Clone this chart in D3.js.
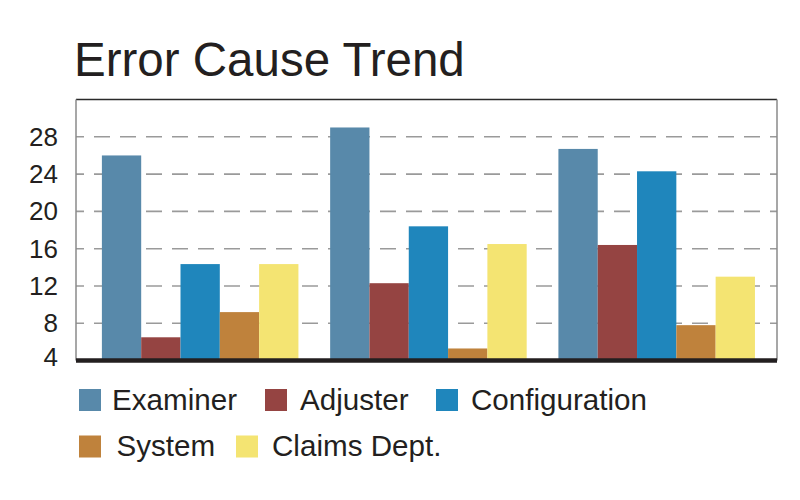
<!DOCTYPE html>
<html>
<head>
<meta charset="utf-8">
<script src="https://cdn.jsdelivr.net/npm/d3@7"></script>
<style>
    body { margin: 0; background: #fff; }
    text { font-family: "Liberation Sans", Arial, sans-serif; fill: #231f20; }
</style>
</head>
<body>
<svg id="drawing_region"></svg>
<script>
// chart data
const groups = ['Period 1', 'Period 2', 'Period 3'];
const series = ['Examiner', 'Adjuster', 'Configuration', 'System', 'Claims Dept.'];
const examiner = [26, 29, 26.7];
const adjuster = [6.5, 12.3, 16.4];
const configuration = [14.35, 18.4, 24.3];
const system = [9.2, 5.3, 7.8];
const claimsDept = [14.35, 16.5, 13];
const yTicks = [4, 8, 12, 16, 20, 24, 28];
const colors = ['#5889aa', '#954442', '#1f86bc', '#bf823c', '#f4e472'];

const values = [examiner, adjuster, configuration, system, claimsDept];
const table = groups.map((g, i) => ({
    group: g,
    items: series.map((s, j) => ({ key: s, value: values[j][i] }))
}));

const config = {
    width: 800,
    height: 500,
    plot: { left: 76, right: 777, top: 99.5, bottom: 360.6 }
};

const svg = d3.select('#drawing_region')
    .attr('width', config.width)
    .attr('height', config.height);

const p = config.plot;

const yscale = d3.scaleLinear()
    .domain([4, 32])
    .range([p.bottom, p.top]);

const x0 = d3.scaleBand()
    .domain(groups)
    .range([p.left, p.right])
    .paddingInner(0.139)
    .paddingOuter(0.105)
    .align(0.54);

const x1 = d3.scaleBand()
    .domain(series)
    .range([0, x0.bandwidth()]);

const color = d3.scaleOrdinal().domain(series).range(colors);

// title
svg.append('text')
    .attr('x', 74)
    .attr('y', 76)
    .style('font-size', '47.5px')
    .text('Error Cause Trend');

// dashed grid
svg.append('g')
    .selectAll('line')
    .data(yTicks.filter(d => d > 4))
    .join('line')
    .attr('x1', p.left)
    .attr('x2', p.right)
    .attr('y1', d => yscale(d))
    .attr('y2', d => yscale(d))
    .attr('stroke', '#9a9a9a')
    .attr('stroke-width', 1.6)
    .attr('stroke-dasharray', '16,10')
    .attr('stroke-dashoffset', 8);

// frame
svg.append('line')
    .attr('x1', p.left).attr('x2', p.right)
    .attr('y1', p.top).attr('y2', p.top)
    .attr('stroke', '#2a2a2a').attr('stroke-width', 1.5);
svg.append('line')
    .attr('x1', p.left).attr('x2', p.left)
    .attr('y1', p.top).attr('y2', p.bottom)
    .attr('stroke', '#8a8a8a').attr('stroke-width', 1.5);
svg.append('line')
    .attr('x1', p.right).attr('x2', p.right)
    .attr('y1', p.top).attr('y2', p.bottom)
    .attr('stroke', '#8a8a8a').attr('stroke-width', 1.5);

// bars
svg.append('g')
    .selectAll('g')
    .data(table)
    .join('g')
    .attr('transform', d => `translate(${x0(d.group)},0)`)
    .selectAll('rect')
    .data(d => d.items)
    .join('rect')
    .attr('x', d => x1(d.key))
    .attr('y', d => yscale(d.value))
    .attr('width', x1.bandwidth())
    .attr('height', d => yscale(4) - yscale(d.value))
    .attr('fill', d => color(d.key));

// baseline
svg.append('line')
    .attr('x1', p.left).attr('x2', p.right)
    .attr('y1', p.bottom).attr('y2', p.bottom)
    .attr('stroke', '#231f20').attr('stroke-width', 4.5);

// y axis
const yaxis = d3.axisLeft(yscale)
    .tickValues(yTicks)
    .tickSize(0)
    .tickPadding(18);

const yaxis_group = svg.append('g')
    .attr('transform', `translate(${p.left},0)`)
    .call(yaxis);
yaxis_group.select('.domain').remove();
yaxis_group.selectAll('text')
    .style('font-size', '26px')
    .style('font-family', '"Liberation Sans", Arial, sans-serif')
    .attr('fill', '#231f20')
    .attr('dy', d => d === 4 ? '0.18em' : '0.32em');

// legend
const legendLayout = [
    { x: 79, y: 389, tx: 112, ty: 410 },
    { x: 265, y: 389, tx: 300, ty: 410 },
    { x: 436, y: 389, tx: 471, ty: 410 },
    { x: 79, y: 435.5, tx: 116.5, ty: 456 },
    { x: 236, y: 435.5, tx: 272, ty: 456 }
];

const legend = svg.append('g')
    .selectAll('g')
    .data(series)
    .join('g');

legend.append('rect')
    .attr('x', (d, i) => legendLayout[i].x)
    .attr('y', (d, i) => legendLayout[i].y)
    .attr('width', 22)
    .attr('height', 22)
    .attr('fill', d => color(d));

legend.append('text')
    .attr('x', (d, i) => legendLayout[i].tx)
    .attr('y', (d, i) => legendLayout[i].ty)
    .style('font-size', '29.6px')
    .text(d => d);
</script>
</body>
</html>
